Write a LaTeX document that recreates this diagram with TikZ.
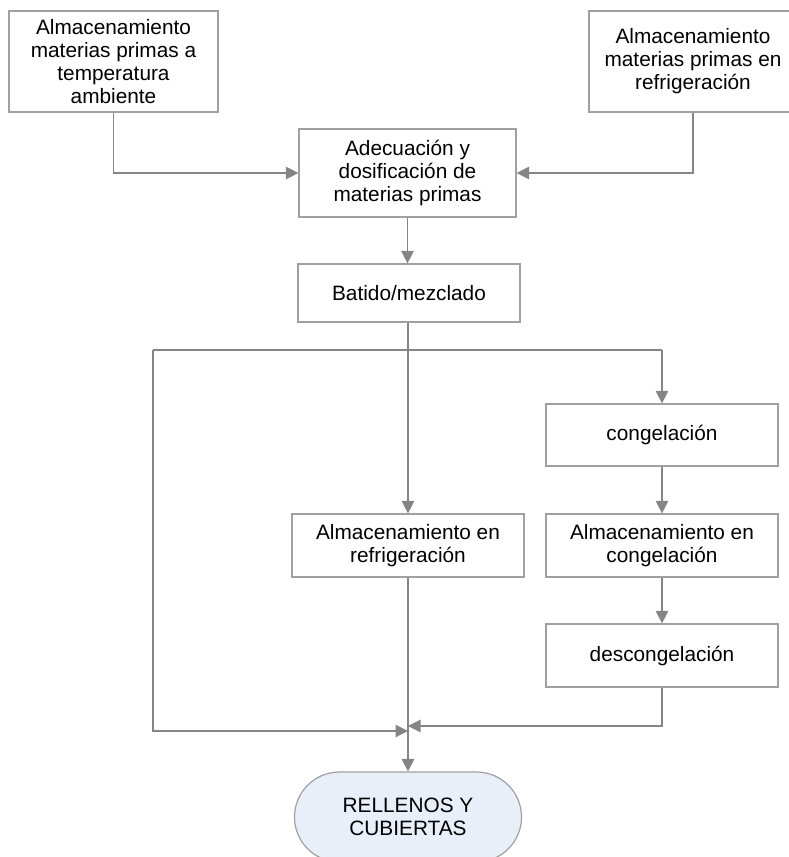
\documentclass[tikz,border=0pt]{standalone}
\usepackage{fontspec}
\setmainfont{Liberation Sans}
\usetikzlibrary{arrows.meta}
\definecolor{linegray}{HTML}{858585}
\definecolor{boxgray}{HTML}{A0A0A0}
\definecolor{termfill}{HTML}{E8EFF9}
\begin{document}
\begin{tikzpicture}[x=1pt,y=-1pt,
  box/.style={draw=boxgray, line width=1.2pt, fill=white, inner sep=0pt, align=center,
    font=\fontsize{20.8}{23}\selectfont},
  conn/.style={draw=linegray, line width=1.2pt},
  arr/.style={conn, -{Triangle[length=12.5pt,width=12.5pt]}, linegray},
  term/.style={box, rounded corners=45pt, fill=termfill, draw=boxgray}
]
\useasboundingbox (0,0) rectangle (789,857);
\node[box, minimum width=209pt, minimum height=101pt] (b1) at (113.5,61.5)
  {Almacenamiento\\materias primas a\\temperatura\\ambiente};
\node[box, minimum width=208pt, minimum height=101pt] (b2) at (693,61.5)
  {Almacenamiento\\materias primas en\\refrigeración};
\node[box, minimum width=217pt, minimum height=88pt] (b3) at (407.5,173)
  {Adecuación y\\dosificación de\\materias primas};
\node[box, minimum width=222pt, minimum height=58pt] (b4) at (409,293)
  {Batido/mezclado};
\node[box, minimum width=232pt, minimum height=63pt] (ref) at (408,545.5)
  {Almacenamiento en\\refrigeración};
\node[box, minimum width=232pt, minimum height=62pt] (cong) at (662,435)
  {congelación};
\node[box, minimum width=232pt, minimum height=63pt] (acong) at (662,545.5)
  {Almacenamiento en\\congelación};
\node[box, minimum width=232pt, minimum height=63pt] (desc) at (662,655.5)
  {descongelación};
\node[term, minimum width=227pt, minimum height=90pt] (fin) at (408,817)
  {RELLENOS Y\\CUBIERTAS};

\coordinate (sp) at (408,350);
\coordinate (sl) at (153,350);
\coordinate (sr) at (662,350);
\coordinate (ml) at (408,731);
\coordinate (mr) at (408,726);

\draw[arr] (b1.south) |- (b3.west);
\draw[arr] (b2.south) |- (b3.east);
\draw[arr] (b3.south) -- (b3.south |- b4.north);
\draw[conn] (b4.south -| sp) -- (sp);
\draw[conn] (sl) -- (sr);
\draw[arr] (sp) -- (ref.north);
\draw[arr] (sr) -- (cong.north);
\draw[arr] (cong.south) -- (acong.north);
\draw[arr] (acong.south) -- (desc.north);
\draw[arr] (sl) |- (ml);
\draw[arr] (desc.south) |- (mr);
\draw[arr] (ref.south) -- (fin.north);
\end{tikzpicture}
\end{document}
